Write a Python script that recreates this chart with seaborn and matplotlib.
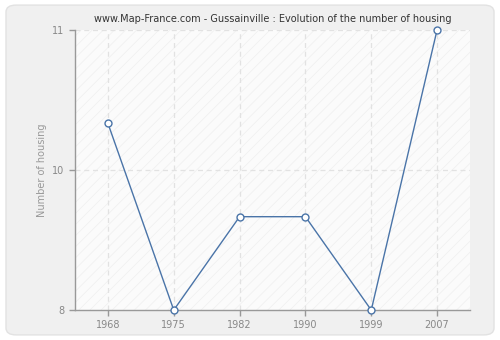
import matplotlib
matplotlib.use("Agg")
import matplotlib.pyplot as plt
import seaborn as sns
import pandas as pd
from matplotlib.patches import FancyBboxPatch

years = ["1968", "1975", "1982", "1990", "1999", "2007"]
housing = [10, 8, 9, 9, 8, 11]
y_ticks = [8, 9.5, 11]
y_tick_labels = ["8", "10", "11"]

sns.set_theme(style="white")
plt.rcParams['font.family'] = ['DejaVu Sans']
plt.rcParams['hatch.linewidth'] = 0.5

df = pd.DataFrame({"idx": range(len(years)), "housing": housing})

fig = plt.figure(figsize=(5, 3.4), dpi=100)
fig.patch.set_facecolor("white")
bg = FancyBboxPatch((0.012, 0.015), 0.976, 0.97, boxstyle="round,pad=0,rounding_size=0.02",
                    transform=fig.transFigure, facecolor="#f0f0f0", edgecolor="#e2e2e2", lw=1,
                    zorder=-10)
fig.patches.append(bg)

ax = fig.add_axes([0.15, 0.088, 0.79, 0.824])
ax.set_zorder(1)
ax.set_facecolor("#fbfbfb")
ax.add_patch(plt.Rectangle((0, 0), 1, 1, transform=ax.transAxes, facecolor="none",
                           hatch="///", edgecolor="#efefef", lw=0, zorder=0))

sns.lineplot(data=df, x="idx", y="housing", ax=ax, color="#4a74a8", lw=1,
             marker="o", markersize=5, markerfacecolor="white",
             markeredgecolor="#4a74a8", markeredgewidth=1, zorder=5, clip_on=False)

ax.set_xlim(-0.5, len(years) - 0.5)
ax.set_ylim(8, 11)
ax.set_xticks(range(len(years)))
ax.set_xticklabels(years)
ax.set_yticks(y_ticks)
ax.set_yticklabels(y_tick_labels)

for i in range(len(years)):
    ax.axvline(i, color="#e2e2e2", ls=(0, (4, 3)), lw=0.9, zorder=1)
for y in y_ticks[1:]:
    ax.axhline(y, color="#e2e2e2", ls=(0, (4, 3)), lw=0.9, zorder=1)

for s in ["top", "right"]:
    ax.spines[s].set_visible(False)
for s in ["left", "bottom"]:
    ax.spines[s].set_color("#999999")
    ax.spines[s].set_linewidth(1)

ax.tick_params(axis="both", colors="#999999", labelcolor="#888888", labelsize=7,
               length=4, width=1, direction="out", left=True, bottom=True)
ax.set_xlabel("")
ax.set_ylabel("Number of housing", color="#999999", fontsize=7)
ax.set_title("www.Map-France.com - Gussainville : Evolution of the number of housing",
             fontsize=7, color="#333333", pad=6)

fig.savefig("out.png", dpi=100, facecolor=fig.get_facecolor())
